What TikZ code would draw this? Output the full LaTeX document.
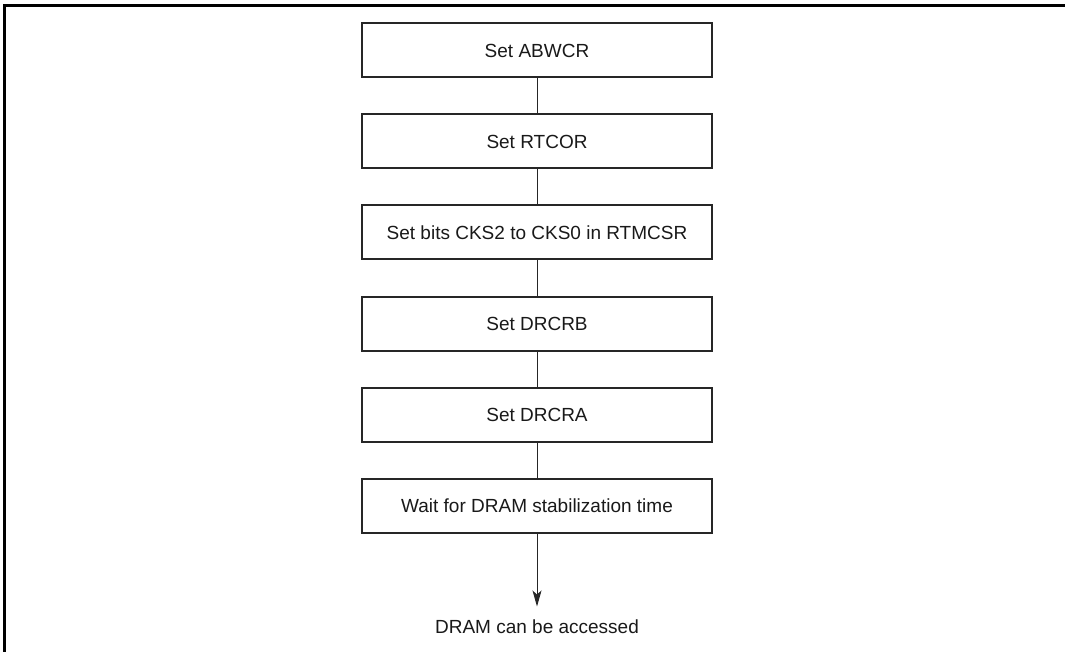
\documentclass[tikz,border=0pt]{standalone}
\usepackage{fontspec}
\setmainfont{Liberation Sans}
\usetikzlibrary{positioning,arrows.meta}

\begin{document}
\begin{tikzpicture}[
    x=1pt, y=1pt,
    font=\fontsize{19}{23}\selectfont,
    node distance=37pt,
    paso/.style={draw=black!85, line width=2pt, minimum width=350pt,
                 minimum height=54pt, inner sep=0pt, outer sep=0pt,
                 align=center, text=black!90},
    fin/.style={inner sep=13pt, outer sep=0pt, text=black!90},
    enlace/.style={draw=black!85, line width=1pt},
    flecha/.style={-{Stealth[length=16pt,width=9pt,inset=4pt]}, line width=1pt, draw=black!85}
]
\useasboundingbox (0,0) rectangle (1065,-652);
\draw[line width=3pt] (1065,-5.5) -- (4.5,-5.5) -- (4.5,-652);

\node[paso]                  (abwcr)  at (537,-50.5) {Set ABWCR};
\node[paso, below=of abwcr]  (rtcor)  {Set RTCOR};
\node[paso, below=of rtcor]  (cks)    {Set bits CKS2 to CKS0 in RTMCSR};
\node[paso, below=of cks]    (drcrb)  {Set DRCRB};
\node[paso, below=of drcrb]  (drcra)  {Set DRCRA};
\node[paso, below=of drcra]  (espera) {Wait for DRAM stabilization time};
\node[fin,  below=74pt of espera] (listo) {DRAM can be accessed};

\draw[enlace] (abwcr) -- (rtcor);
\draw[enlace] (rtcor) -- (cks);
\draw[enlace] (cks) -- (drcrb);
\draw[enlace] (drcrb) -- (drcra);
\draw[enlace] (drcra) -- (espera);
\draw[flecha] (espera) -- (listo);

\end{tikzpicture}
\end{document}
